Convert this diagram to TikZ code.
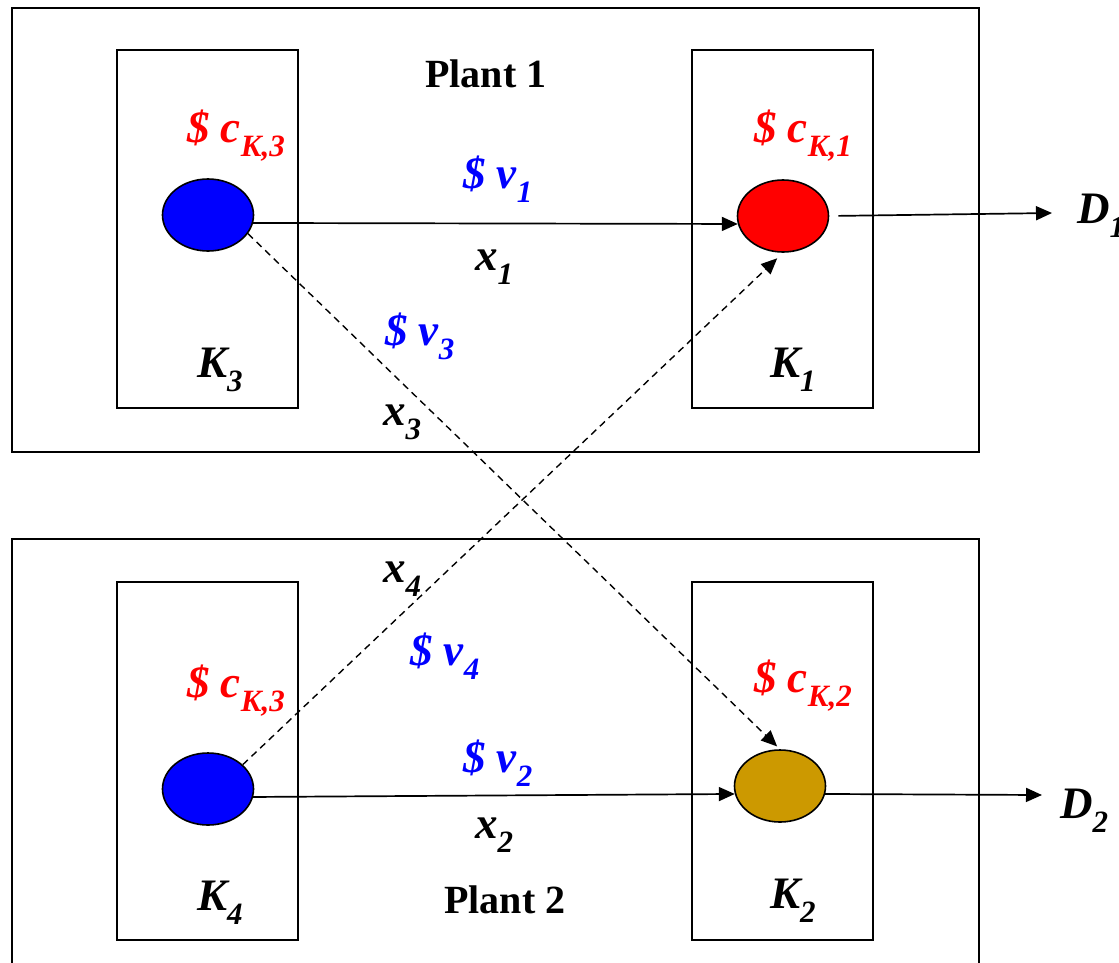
\documentclass[tikz,border=0pt]{standalone}
\usepackage{fontspec}
\setmainfont{Liberation Serif}
\usetikzlibrary{shapes.geometric,arrows.meta}
\definecolor{brownish}{RGB}{204,153,0}
\newcommand\lsub[1]{\raisebox{-0.32em}{\fontsize{31}{31}\selectfont #1}}
\tikzset{
  box/.style={draw,line width=1.8pt},
  blob/.style={ellipse,draw,line width=1.6pt,minimum width=91pt,minimum height=72pt,inner sep=0pt},
  lab/.style={font=\fontsize{45}{45}\selectfont\bfseries\itshape,inner sep=0pt,anchor=base west},
  plant/.style={font=\fontsize{40}{40}\selectfont\bfseries,inner sep=0pt,anchor=base west},
  arr/.style={line width=1.7pt,-{Triangle[length=16pt,width=14pt]}},
  darr/.style={line width=1.4pt,dash pattern=on 7pt off 5pt,-{Triangle[length=16pt,width=14pt]}}
}
\begin{document}
\begin{tikzpicture}[x=1pt,y=-1pt]
\clip (0,0) rectangle (1119,962);
\fill[white] (0,0) rectangle (1119,962);
% plant boxes
\draw[box] (12,8) rectangle (979,452);
\draw[box] (117,50) rectangle (298,408);
\draw[box] (692,50) rectangle (873,408);
\draw[box] (12,539) rectangle (979,990);
\draw[box] (117,582) rectangle (298,940);
\draw[box] (692,582) rectangle (873,940);
% ellipses
\node[blob,fill=blue] (b1) at (208,215) {};
\node[blob,fill=red] (r1) at (783,216) {};
\node[blob,fill=blue] (b2) at (208,789) {};
\node[blob,fill=brownish] (k2) at (780,786) {};
\coordinate (d1) at (1052,213);
\coordinate (d2) at (1042,795);
% arrows
\draw[arr] (b1.-10) -- (r1.-170);
\draw[arr,shorten <=9pt] (r1.east) -- (d1);
\draw[arr] (b2.-10) -- (k2.-170);
\draw[arr] (k2.-10) -- (d2);
\draw[darr,shorten >=4pt] (b1.-25) -- (k2.north);
\draw[darr,shorten >=8pt] (b2.35) -- (r1.south);
% labels
\node[plant] (p1) at (425,87) {Plant 1};
\node[plant] (p2) at (444,913) {Plant 2};
\node[lab,red] (c3a) at (187,142) {\$ c\lsub{K,3}};
\node[lab,red] (c1) at (754,142) {\$ c\lsub{K,1}};
\node[lab,blue] (v1) at (463,188) {\$ v\lsub{1}};
\node[lab] (x1) at (475,270) {x\lsub{1}};
\node[lab] (k3) at (197,377) {K\lsub{3}};
\node[lab] (k1) at (770,377) {K\lsub{1}};
\node[lab,blue] (v3) at (385,345) {\$ v\lsub{3}};
\node[lab] (x3) at (383,425) {x\lsub{3}};
\node[lab] (x4) at (383,582) {x\lsub{4}};
\node[lab,blue] (v4) at (410,665) {\$ v\lsub{4}};
\node[lab,red] (c3b) at (187,697) {\$ c\lsub{K,3}};
\node[lab,red] (c2) at (754,692) {\$ c\lsub{K,2}};
\node[lab,blue] (v2) at (463,772) {\$ v\lsub{2}};
\node[lab] (x2) at (475,838) {x\lsub{2}};
\node[lab] (k4) at (197,910) {K\lsub{4}};
\node[lab] (kk2) at (770,908) {K\lsub{2}};
\node[lab] (D1) at (1077,223) {D\lsub{1}};
\node[lab] (D2) at (1060,818) {D\lsub{2}};
\end{tikzpicture}
\end{document}
